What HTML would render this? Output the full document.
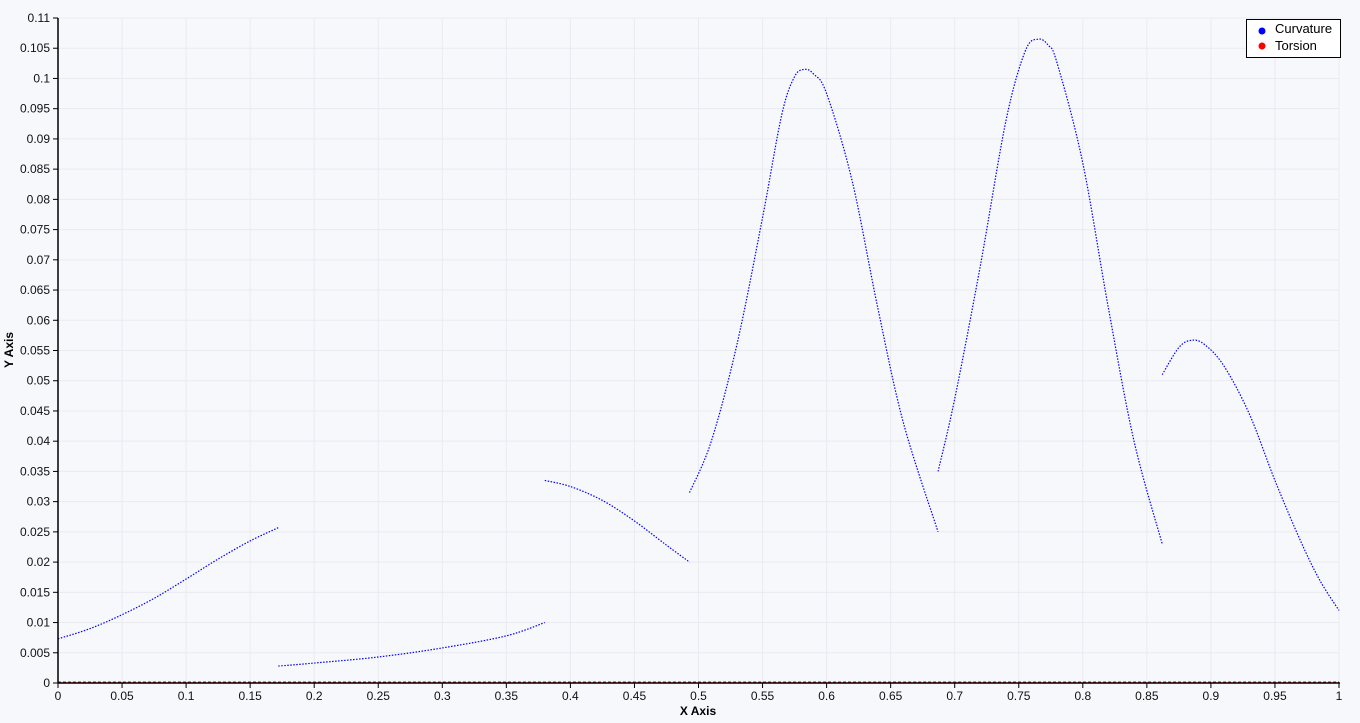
<!DOCTYPE html>
<html><head><meta charset="utf-8"><style>
body{margin:0;background:#f7f8fc;}
svg{display:block;font-family:"Liberation Sans",sans-serif;}
</style></head><body>
<svg id="chart" width="1360" height="723">
<rect width="1360" height="723" fill="#f7f8fc"/>
<g id="grid"></g><g id="series"></g><g id="axes"></g>
<text x="698" y="715" font-size="12" font-weight="bold" text-anchor="middle">X Axis</text>
<text transform="translate(13,350) rotate(-90)" font-size="12" font-weight="bold" text-anchor="middle">Y Axis</text>
<g>
<rect x="1246.5" y="19.5" width="94" height="38" fill="#fff" stroke="#000"/>
<circle cx="1262" cy="31" r="3.5" fill="#0000ff"/>
<text x="1275" y="33" font-size="13">Curvature</text>
<circle cx="1262" cy="46" r="3.5" fill="#ff0000"/>
<text x="1275" y="50" font-size="13">Torsion</text>
</g>
</svg>
<script>
const xTicks=[0,0.05,0.1,0.15,0.2,0.25,0.3,0.35,0.4,0.45,0.5,0.55,0.6,0.65,0.7,0.75,0.8,0.85,0.9,0.95,1];
const xTickLabels=["0","0.05","0.1","0.15","0.2","0.25","0.3","0.35","0.4","0.45","0.5","0.55","0.6","0.65","0.7","0.75","0.8","0.85","0.9","0.95","1"];
const yTicks=[0,0.005,0.01,0.015,0.02,0.025,0.03,0.035,0.04,0.045,0.05,0.055,0.06,0.065,0.07,0.075,0.08,0.085,0.09,0.095,0.1,0.105,0.11];
const yTickLabels=["0","0.005","0.01","0.015","0.02","0.025","0.03","0.035","0.04","0.045","0.05","0.055","0.06","0.065","0.07","0.075","0.08","0.085","0.09","0.095","0.1","0.105","0.11"];
const seg1X=[0,0.025,0.05,0.075,0.1,0.125,0.15,0.172];
const seg1Y=[0.0073,0.009,0.0113,0.014,0.0172,0.0205,0.0235,0.0257];
const seg2X=[0.172,0.2,0.25,0.3,0.35,0.38];
const seg2Y=[0.0028,0.0033,0.0043,0.0058,0.0078,0.0100];
const seg3X=[0.38,0.4,0.425,0.45,0.475,0.493];
const seg3Y=[0.0335,0.0325,0.0302,0.0268,0.0228,0.0200];
const seg4X=[0.493,0.51,0.53,0.55,0.565,0.575,0.583,0.59,0.6,0.62,0.64,0.66,0.687];
const seg4Y=[0.0315,0.040,0.056,0.077,0.094,0.1003,0.1015,0.1007,0.0975,0.083,0.062,0.043,0.025];
const seg5X=[0.687,0.7,0.72,0.74,0.755,0.765,0.773,0.78,0.8,0.82,0.84,0.862];
const seg5Y=[0.035,0.047,0.069,0.093,0.1045,0.1065,0.1055,0.1025,0.086,0.062,0.040,0.023];
const seg6X=[0.862,0.875,0.885,0.895,0.91,0.93,0.95,0.97,0.985,1];
const seg6Y=[0.051,0.0555,0.0567,0.056,0.0525,0.0445,0.0335,0.0235,0.017,0.012];
const torsionX=[0,1];
const torsionY=[0,0];
const X0=58,X1=1339,Y0=683,Y1=18;
const sx=v=>X0+(X1-X0)*v;
const sy=v=>Y0-(Y0-Y1)*v/0.11;
const NS="http://www.w3.org/2000/svg";
function mk(t,a,p){const e=document.createElementNS(NS,t);for(const k in a)e.setAttribute(k,a[k]);p.appendChild(e);return e;}
const grid=document.getElementById('grid'),axes=document.getElementById('axes'),series=document.getElementById('series');
xTicks.forEach((v,i)=>{
 const g=mk('line',{x1:sx(v),x2:sx(v),y1:Y1,y2:Y0,stroke:'#e9ebf0','stroke-width':1},grid);
 
 
 mk('line',{x1:sx(v),x2:sx(v),y1:Y0,y2:Y0+5,stroke:'#000'},axes);
 const t=mk('text',{x:sx(v),y:Y0+17,'font-size':12,'text-anchor':'middle',fill:'#111'},axes);
 t.textContent=xTickLabels[i];
 
 
});
yTicks.forEach((v,i)=>{
 const g=mk('line',{x1:X0,x2:X1,y1:sy(v),y2:sy(v),stroke:'#e9ebf0','stroke-width':1},grid);
 
 
 mk('line',{x1:X0-5,x2:X0,y1:sy(v),y2:sy(v),stroke:'#000'},axes);
 const t=mk('text',{x:X0-8,y:sy(v)+4,'font-size':12,'text-anchor':'end',fill:'#111'},axes);
 t.textContent=yTickLabels[i];
 
 
});
const xa=mk('line',{x1:X0,x2:X1+1,y1:Y0,y2:Y0,stroke:'#000','stroke-width':1.5},axes);


const ya=mk('line',{x1:X0,x2:X0,y1:Y1,y2:Y0,stroke:'#000','stroke-width':1.5},axes);


function pathFor(xs,ys){
 const p=xs.map((x,i)=>[sx(x),sy(ys[i])]);
 let d='M'+p[0][0]+','+p[0][1];
 for(let i=0;i<p.length-1;i++){
  const p0=p[Math.max(0,i-1)],p1=p[i],p2=p[i+1],p3=p[Math.min(p.length-1,i+2)];
  const c1=[p1[0]+(p2[0]-p0[0])/6,p1[1]+(p2[1]-p0[1])/6];
  const c2=[p2[0]-(p3[0]-p1[0])/6,p2[1]-(p3[1]-p1[1])/6];
  d+=' C'+c1+' '+c2+' '+p2;
 }
 return d;
}
const tp=mk('path',{d:pathFor(torsionX,torsionY).replace(/,683/g,',682'),stroke:'#dd0000','stroke-width':1,fill:'none','stroke-dasharray':'3 2'},series);


[[seg1X,seg1Y],[seg2X,seg2Y],[seg3X,seg3Y],[seg4X,seg4Y],[seg5X,seg5Y],[seg6X,seg6Y]].forEach((s,i)=>{
 const e=mk('path',{d:pathFor(s[0],s[1]),stroke:'#0000ff','stroke-width':1.2,fill:'none','stroke-dasharray':'1.5 1.5'},series);
 
 
});
</script>
</body></html>
